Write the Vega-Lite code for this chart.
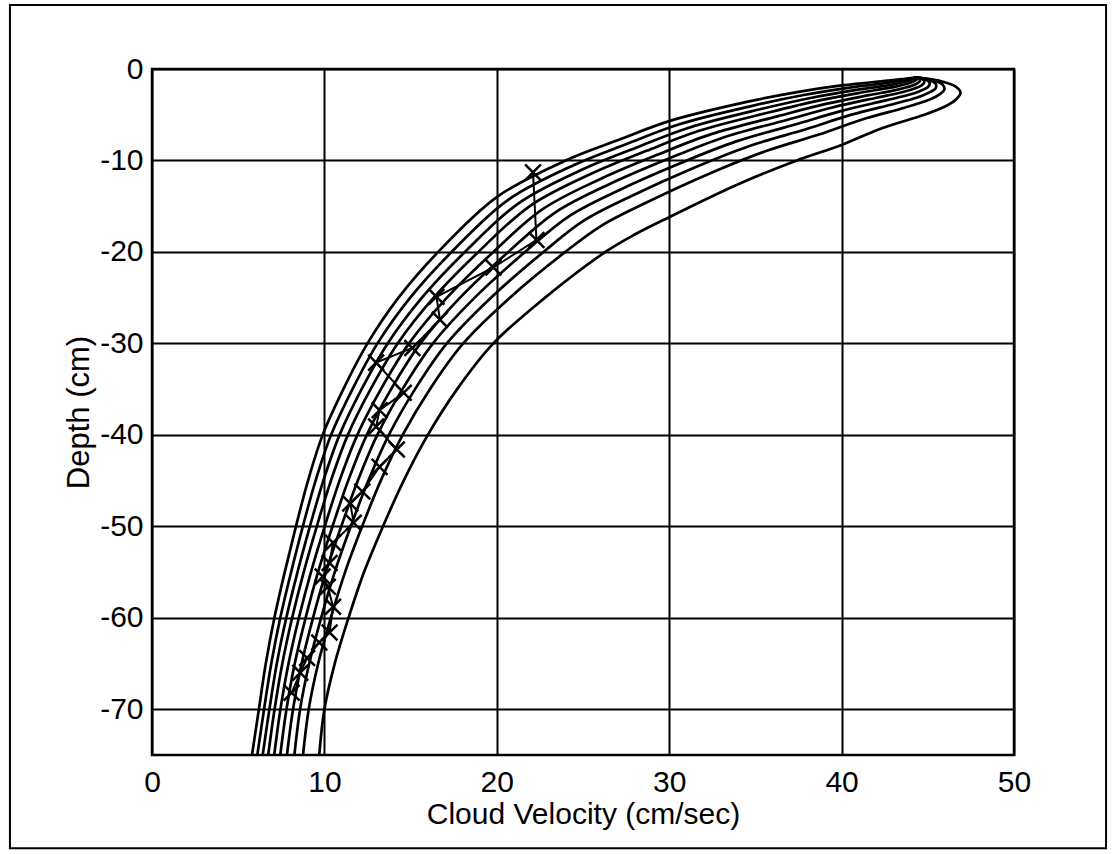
{
"$schema": "https://vega.github.io/schema/vega-lite/v6.json",
"width": 862,
"height": 686,
"autosize": {"type": "none"},
"padding": {"left": 152, "top": 69, "right": 102, "bottom": 99},
"background": "white",
"config": {
  "view": {"stroke": "black", "strokeWidth": 2.5},
  "font": "Liberation Sans",
  "axis": {"domain": false, "ticks": false, "grid": true, "gridColor": "black", "gridOpacity": 1, "gridWidth": 2, "labelFont": "Liberation Sans", "labelFontSize": 30, "labelColor": "black", "titleFont": "Liberation Sans", "titleFontSize": 30, "titleFontWeight": "normal", "titleColor": "black", "labelFlush": false, "labelOverlap": false, "labelExpr": "replace(datum.label, '\u2212', '-')"},
  "axisX": {"labelPadding": 12, "titlePadding": 2},
  "axisY": {"labelPadding": 9, "titlePadding": 4, "titleFontSize": 31}
},
"datasets": {
  "curves": [
{"c":0,"k":0,"x":44.3,"y":-0.9},{"c":0,"k":1,"x":44.0,"y":-1.0},{"c":0,"k":2,"x":43.5,"y":-1.1},{"c":0,"k":3,"x":43.0,"y":-1.2},{"c":0,"k":4,"x":42.3,"y":-1.35},{"c":0,"k":5,"x":41.5,"y":-1.5},{"c":0,"k":6,"x":40.0,"y":-1.8},{"c":0,"k":7,"x":37.5,"y":-2.5},{"c":0,"k":8,"x":34.5,"y":-3.6},{"c":0,"k":9,"x":30.0,"y":-5.7},{"c":0,"k":10,"x":27.0,"y":-7.8},{"c":0,"k":11,"x":24.0,"y":-10},{"c":0,"k":12,"x":20.0,"y":-14},{"c":0,"k":13,"x":16.6,"y":-20},{"c":0,"k":14,"x":14.3,"y":-25},{"c":0,"k":15,"x":12.5,"y":-30},{"c":0,"k":16,"x":11.1,"y":-35},{"c":0,"k":17,"x":9.9,"y":-40},{"c":0,"k":18,"x":9.05,"y":-45},{"c":0,"k":19,"x":8.35,"y":-50},{"c":0,"k":20,"x":7.7,"y":-55},{"c":0,"k":21,"x":7.1,"y":-60},{"c":0,"k":22,"x":6.6,"y":-65},{"c":0,"k":23,"x":6.2,"y":-70},{"c":0,"k":24,"x":5.8,"y":-75},
{"c":1,"k":0,"x":44.3,"y":-0.9},{"c":1,"k":1,"x":44.14,"y":-1.02},{"c":1,"k":2,"x":43.75,"y":-1.16},{"c":1,"k":3,"x":43.31,"y":-1.31},{"c":1,"k":4,"x":42.64,"y":-1.51},{"c":1,"k":5,"x":41.86,"y":-1.71},{"c":1,"k":6,"x":40.38,"y":-2.06},{"c":1,"k":7,"x":37.88,"y":-2.82},{"c":1,"k":8,"x":34.94,"y":-3.98},{"c":1,"k":9,"x":30.59,"y":-6.04},{"c":1,"k":10,"x":27.56,"y":-8.18},{"c":1,"k":11,"x":24.48,"y":-10.5},{"c":1,"k":12,"x":20.64,"y":-14.33},{"c":1,"k":13,"x":17.38,"y":-20},{"c":1,"k":14,"x":14.98,"y":-25},{"c":1,"k":15,"x":13.08,"y":-30},{"c":1,"k":16,"x":11.63,"y":-35},{"c":1,"k":17,"x":10.39,"y":-40},{"c":1,"k":18,"x":9.49,"y":-45},{"c":1,"k":19,"x":8.75,"y":-50},{"c":1,"k":20,"x":8.07,"y":-55},{"c":1,"k":21,"x":7.44,"y":-60},{"c":1,"k":22,"x":6.92,"y":-65},{"c":1,"k":23,"x":6.5,"y":-70},{"c":1,"k":24,"x":6.11,"y":-75},
{"c":2,"k":0,"x":44.3,"y":-0.9},{"c":2,"k":1,"x":44.27,"y":-1.05},{"c":2,"k":2,"x":44.0,"y":-1.23},{"c":2,"k":3,"x":43.62,"y":-1.42},{"c":2,"k":4,"x":42.99,"y":-1.68},{"c":2,"k":5,"x":42.22,"y":-1.92},{"c":2,"k":6,"x":40.77,"y":-2.31},{"c":2,"k":7,"x":38.27,"y":-3.14},{"c":2,"k":8,"x":35.38,"y":-4.35},{"c":2,"k":9,"x":31.18,"y":-6.39},{"c":2,"k":10,"x":28.12,"y":-8.57},{"c":2,"k":11,"x":24.96,"y":-10.99},{"c":2,"k":12,"x":21.28,"y":-14.66},{"c":2,"k":13,"x":18.15,"y":-20},{"c":2,"k":14,"x":15.66,"y":-25},{"c":2,"k":15,"x":13.67,"y":-30},{"c":2,"k":16,"x":12.16,"y":-35},{"c":2,"k":17,"x":10.88,"y":-40},{"c":2,"k":18,"x":9.94,"y":-45},{"c":2,"k":19,"x":9.16,"y":-50},{"c":2,"k":20,"x":8.44,"y":-55},{"c":2,"k":21,"x":7.79,"y":-60},{"c":2,"k":22,"x":7.24,"y":-65},{"c":2,"k":23,"x":6.81,"y":-70},{"c":2,"k":24,"x":6.42,"y":-75},
{"c":3,"k":0,"x":44.3,"y":-0.9},{"c":3,"k":1,"x":44.41,"y":-1.07},{"c":3,"k":2,"x":44.24,"y":-1.29},{"c":3,"k":3,"x":43.94,"y":-1.54},{"c":3,"k":4,"x":43.33,"y":-1.84},{"c":3,"k":5,"x":42.58,"y":-2.12},{"c":3,"k":6,"x":41.15,"y":-2.57},{"c":3,"k":7,"x":38.65,"y":-3.46},{"c":3,"k":8,"x":35.82,"y":-4.73},{"c":3,"k":9,"x":31.78,"y":-6.73},{"c":3,"k":10,"x":28.68,"y":-8.95},{"c":3,"k":11,"x":25.44,"y":-11.49},{"c":3,"k":12,"x":21.92,"y":-14.98},{"c":3,"k":13,"x":18.93,"y":-20},{"c":3,"k":14,"x":16.34,"y":-25},{"c":3,"k":15,"x":14.25,"y":-30},{"c":3,"k":16,"x":12.68,"y":-35},{"c":3,"k":17,"x":11.36,"y":-40},{"c":3,"k":18,"x":10.38,"y":-45},{"c":3,"k":19,"x":9.56,"y":-50},{"c":3,"k":20,"x":8.8,"y":-55},{"c":3,"k":21,"x":8.13,"y":-60},{"c":3,"k":22,"x":7.56,"y":-65},{"c":3,"k":23,"x":7.11,"y":-70},{"c":3,"k":24,"x":6.74,"y":-75},
{"c":4,"k":0,"x":44.3,"y":-0.9},{"c":4,"k":1,"x":44.56,"y":-1.1},{"c":4,"k":2,"x":44.52,"y":-1.36},{"c":4,"k":3,"x":44.29,"y":-1.66},{"c":4,"k":4,"x":43.72,"y":-2.03},{"c":4,"k":5,"x":42.99,"y":-2.36},{"c":4,"k":6,"x":41.58,"y":-2.86},{"c":4,"k":7,"x":39.08,"y":-3.82},{"c":4,"k":8,"x":36.32,"y":-5.15},{"c":4,"k":9,"x":32.44,"y":-7.12},{"c":4,"k":10,"x":29.31,"y":-9.38},{"c":4,"k":11,"x":25.98,"y":-12.05},{"c":4,"k":12,"x":22.64,"y":-15.35},{"c":4,"k":13,"x":19.8,"y":-20},{"c":4,"k":14,"x":17.11,"y":-25},{"c":4,"k":15,"x":14.91,"y":-30},{"c":4,"k":16,"x":13.28,"y":-35},{"c":4,"k":17,"x":11.91,"y":-40},{"c":4,"k":18,"x":10.88,"y":-45},{"c":4,"k":19,"x":10.02,"y":-50},{"c":4,"k":20,"x":9.22,"y":-55},{"c":4,"k":21,"x":8.52,"y":-60},{"c":4,"k":22,"x":7.92,"y":-65},{"c":4,"k":23,"x":7.45,"y":-70},{"c":4,"k":24,"x":7.09,"y":-75},
{"c":5,"k":0,"x":44.3,"y":-0.9},{"c":5,"k":1,"x":44.71,"y":-1.13},{"c":5,"k":2,"x":44.8,"y":-1.44},{"c":5,"k":3,"x":44.64,"y":-1.79},{"c":5,"k":4,"x":44.11,"y":-2.21},{"c":5,"k":5,"x":43.39,"y":-2.59},{"c":5,"k":6,"x":42.02,"y":-3.14},{"c":5,"k":7,"x":39.52,"y":-4.18},{"c":5,"k":8,"x":36.81,"y":-5.57},{"c":5,"k":9,"x":33.11,"y":-7.51},{"c":5,"k":10,"x":29.94,"y":-9.82},{"c":5,"k":11,"x":26.52,"y":-12.6},{"c":5,"k":12,"x":23.36,"y":-15.72},{"c":5,"k":13,"x":20.67,"y":-20},{"c":5,"k":14,"x":17.87,"y":-25},{"c":5,"k":15,"x":15.57,"y":-30},{"c":5,"k":16,"x":13.87,"y":-35},{"c":5,"k":17,"x":12.46,"y":-40},{"c":5,"k":18,"x":11.38,"y":-45},{"c":5,"k":19,"x":10.47,"y":-50},{"c":5,"k":20,"x":9.63,"y":-55},{"c":5,"k":21,"x":8.91,"y":-60},{"c":5,"k":22,"x":8.28,"y":-65},{"c":5,"k":23,"x":7.8,"y":-70},{"c":5,"k":24,"x":7.44,"y":-75},
{"c":6,"k":0,"x":44.3,"y":-0.9},{"c":6,"k":1,"x":44.88,"y":-1.16},{"c":6,"k":2,"x":45.11,"y":-1.52},{"c":6,"k":3,"x":45.03,"y":-1.93},{"c":6,"k":4,"x":44.54,"y":-2.42},{"c":6,"k":5,"x":43.84,"y":-2.85},{"c":6,"k":6,"x":42.5,"y":-3.46},{"c":6,"k":7,"x":40.0,"y":-4.58},{"c":6,"k":8,"x":37.36,"y":-6.04},{"c":6,"k":9,"x":33.85,"y":-7.94},{"c":6,"k":10,"x":30.64,"y":-10.3},{"c":6,"k":11,"x":27.12,"y":-13.22},{"c":6,"k":12,"x":24.16,"y":-16.13},{"c":6,"k":13,"x":21.64,"y":-20},{"c":6,"k":14,"x":18.72,"y":-25},{"c":6,"k":15,"x":16.3,"y":-30},{"c":6,"k":16,"x":14.53,"y":-35},{"c":6,"k":17,"x":13.07,"y":-40},{"c":6,"k":18,"x":11.94,"y":-45},{"c":6,"k":19,"x":10.98,"y":-50},{"c":6,"k":20,"x":10.09,"y":-55},{"c":6,"k":21,"x":9.34,"y":-60},{"c":6,"k":22,"x":8.68,"y":-65},{"c":6,"k":23,"x":8.18,"y":-70},{"c":6,"k":24,"x":7.83,"y":-75},
{"c":7,"k":0,"x":44.3,"y":-0.9},{"c":7,"k":1,"x":45.07,"y":-1.19},{"c":7,"k":2,"x":45.45,"y":-1.6},{"c":7,"k":3,"x":45.46,"y":-2.08},{"c":7,"k":4,"x":45.01,"y":-2.64},{"c":7,"k":5,"x":44.34,"y":-3.14},{"c":7,"k":6,"x":43.02,"y":-3.82},{"c":7,"k":7,"x":40.52,"y":-5.02},{"c":7,"k":8,"x":37.97,"y":-6.56},{"c":7,"k":9,"x":34.66,"y":-8.41},{"c":7,"k":10,"x":31.41,"y":-10.82},{"c":7,"k":11,"x":27.78,"y":-13.91},{"c":7,"k":12,"x":25.04,"y":-16.58},{"c":7,"k":13,"x":22.71,"y":-20},{"c":7,"k":14,"x":19.66,"y":-25},{"c":7,"k":15,"x":17.1,"y":-30},{"c":7,"k":16,"x":15.26,"y":-35},{"c":7,"k":17,"x":13.74,"y":-40},{"c":7,"k":18,"x":12.55,"y":-45},{"c":7,"k":19,"x":11.53,"y":-50},{"c":7,"k":20,"x":10.6,"y":-55},{"c":7,"k":21,"x":9.81,"y":-60},{"c":7,"k":22,"x":9.12,"y":-65},{"c":7,"k":23,"x":8.59,"y":-70},{"c":7,"k":24,"x":8.26,"y":-75},
{"c":8,"k":0,"x":44.3,"y":-0.9},{"c":8,"k":1,"x":45.29,"y":-1.23},{"c":8,"k":2,"x":45.86,"y":-1.71},{"c":8,"k":3,"x":45.96,"y":-2.26},{"c":8,"k":4,"x":45.57,"y":-2.91},{"c":8,"k":5,"x":44.92,"y":-3.48},{"c":8,"k":6,"x":43.65,"y":-4.23},{"c":8,"k":7,"x":41.15,"y":-5.54},{"c":8,"k":8,"x":38.68,"y":-7.17},{"c":8,"k":9,"x":35.62,"y":-8.97},{"c":8,"k":10,"x":32.32,"y":-11.45},{"c":8,"k":11,"x":28.56,"y":-14.71},{"c":8,"k":12,"x":26.08,"y":-17.12},{"c":8,"k":13,"x":23.97,"y":-20},{"c":8,"k":14,"x":20.76,"y":-25},{"c":8,"k":15,"x":18.05,"y":-30},{"c":8,"k":16,"x":16.12,"y":-35},{"c":8,"k":17,"x":14.54,"y":-40},{"c":8,"k":18,"x":13.27,"y":-45},{"c":8,"k":19,"x":12.19,"y":-50},{"c":8,"k":20,"x":11.2,"y":-55},{"c":8,"k":21,"x":10.37,"y":-60},{"c":8,"k":22,"x":9.64,"y":-65},{"c":8,"k":23,"x":9.09,"y":-70},{"c":8,"k":24,"x":8.76,"y":-75},
{"c":9,"k":0,"x":44.3,"y":-0.9},{"c":9,"k":1,"x":45.7,"y":-1.3},{"c":9,"k":2,"x":46.6,"y":-1.9},{"c":9,"k":3,"x":46.9,"y":-2.6},{"c":9,"k":4,"x":46.6,"y":-3.4},{"c":9,"k":5,"x":46.0,"y":-4.1},{"c":9,"k":6,"x":44.8,"y":-5.0},{"c":9,"k":7,"x":42.3,"y":-6.5},{"c":9,"k":8,"x":40.0,"y":-8.3},{"c":9,"k":9,"x":37.4,"y":-10.0},{"c":9,"k":10,"x":34.0,"y":-12.6},{"c":9,"k":11,"x":30.0,"y":-16.2},{"c":9,"k":12,"x":28.0,"y":-18.1},{"c":9,"k":13,"x":26.3,"y":-20},{"c":9,"k":14,"x":22.8,"y":-25},{"c":9,"k":15,"x":19.8,"y":-30},{"c":9,"k":16,"x":17.7,"y":-35},{"c":9,"k":17,"x":16.0,"y":-40},{"c":9,"k":18,"x":14.6,"y":-45},{"c":9,"k":19,"x":13.4,"y":-50},{"c":9,"k":20,"x":12.3,"y":-55},{"c":9,"k":21,"x":11.4,"y":-60},{"c":9,"k":22,"x":10.6,"y":-65},{"c":9,"k":23,"x":10.0,"y":-70},{"c":9,"k":24,"x":9.7,"y":-75}
  ],
  "marks": [
{"i":0,"x":22.1,"y":-11.3},{"i":1,"x":22.3,"y":-18.7},{"i":2,"x":19.8,"y":-21.7},{"i":3,"x":16.5,"y":-24.9},{"i":4,"x":16.7,"y":-27.4},{"i":5,"x":15.1,"y":-30.5},{"i":6,"x":13.0,"y":-32.1},{"i":7,"x":14.6,"y":-35.4},{"i":8,"x":13.2,"y":-37.3},{"i":9,"x":13.0,"y":-39.1},{"i":10,"x":14.2,"y":-41.6},{"i":11,"x":13.2,"y":-43.5},{"i":12,"x":12.2,"y":-46.2},{"i":13,"x":11.5,"y":-47.5},{"i":14,"x":11.7,"y":-49.6},{"i":15,"x":10.5,"y":-51.8},{"i":16,"x":10.3,"y":-54.0},{"i":17,"x":9.9,"y":-55.5},{"i":18,"x":10.2,"y":-56.6},{"i":19,"x":10.5,"y":-58.8},{"i":20,"x":10.3,"y":-61.6},{"i":21,"x":9.7,"y":-62.7},{"i":22,"x":9.0,"y":-64.4},{"i":23,"x":8.6,"y":-66.0},{"i":24,"x":8.1,"y":-68.2}
  ],
  "frame": [{"name": "frame"}]
},
"layer": [
  {
    "data": {"name": "frame"},
    "mark": {"type": "rect", "filled": false, "fill": null, "stroke": "black", "strokeWidth": 2, "clip": false},
    "encoding": {
      "x": {"datum": -8.24, "type": "quantitative", "title": "Cloud Velocity (cm/sec)", "scale": {"domain": [0, 50], "nice": false, "zero": false}},
      "x2": {"datum": 55.34},
      "y": {"datum": 7.0, "type": "quantitative", "title": "Depth (cm)", "scale": {"domain": [-75, 0], "nice": false, "zero": false}},
      "y2": {"datum": -85.2}
    }
  },
  {
    "data": {"name": "curves"},
    "mark": {"type": "line", "color": "black", "strokeWidth": 2.7, "interpolate": "catmull-rom", "clip": true},
    "encoding": {
      "x": {"field": "x", "type": "quantitative", "title": "Cloud Velocity (cm/sec)", "scale": {"domain": [0, 50], "nice": false, "zero": false}, "axis": {"values": [0, 10, 20, 30, 40, 50]}},
      "y": {"field": "y", "type": "quantitative", "title": "Depth (cm)", "scale": {"domain": [-75, 0], "nice": false, "zero": false}, "axis": {"values": [0, -10, -20, -30, -40, -50, -60, -70]}},
      "detail": {"field": "c", "type": "nominal"},
      "order": {"field": "k", "type": "quantitative"}
    }
  },
  {
    "data": {"name": "marks"},
    "mark": {"type": "line", "color": "black", "strokeWidth": 2, "clip": true},
    "encoding": {
      "x": {"field": "x", "type": "quantitative", "title": "Cloud Velocity (cm/sec)"},
      "y": {"field": "y", "type": "quantitative", "title": "Depth (cm)"},
      "order": {"field": "i", "type": "quantitative"}
    }
  },
  {
    "data": {"name": "marks"},
    "mark": {"type": "point", "shape": "M-1,-1L1,1M-1,1L1,-1", "filled": false, "stroke": "black", "strokeWidth": 2.5, "size": 250, "opacity": 1, "clip": true},
    "encoding": {
      "x": {"field": "x", "type": "quantitative", "title": "Cloud Velocity (cm/sec)"},
      "y": {"field": "y", "type": "quantitative", "title": "Depth (cm)"}
    }
  }
]
}
